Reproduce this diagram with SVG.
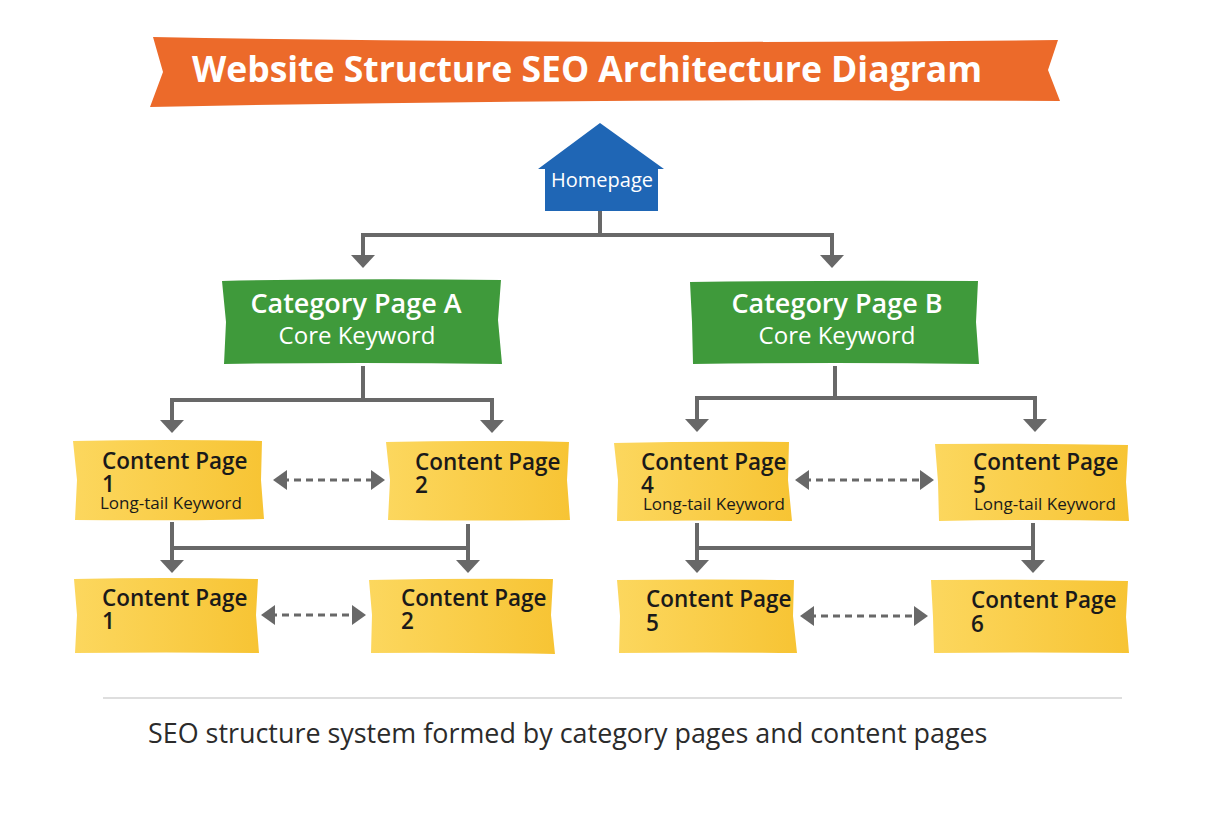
<svg xmlns="http://www.w3.org/2000/svg" width="1228" height="819" viewBox="0 0 1228 819">
<style>
.conn{fill:none;stroke:#686868;stroke-width:4;stroke-linejoin:miter}
.dash{fill:none;stroke:#686868;stroke-width:3;stroke-dasharray:7 5}
.cpt{font-family:"Open Sans","Noto Sans",sans-serif;font-weight:600;font-size:22.5px;fill:#1a1a1a}
.cps{font-weight:400;font-size:17px}
.catt{font-family:"Open Sans","Noto Sans",sans-serif;font-weight:600;font-size:27px;fill:#fff}
.cats{font-weight:400;font-size:24px}
.yel{fill:url(#yg)}
.grn{fill:#3f9a3b}
</style>
<defs>
<linearGradient id="yg" x1="0" y1="0" x2="1" y2="0">
<stop offset="0" stop-color="#fcd75e"/>
<stop offset="1" stop-color="#f7c434"/>
</linearGradient>
<marker id="ah" markerUnits="userSpaceOnUse" markerWidth="14" markerHeight="24" refX="5" refY="12" orient="auto-start-reverse" viewBox="0 0 14 24">
<path d="M0,0 L13,12 L0,24 Z" fill="#686868"/>
</marker>
<marker id="dh" markerUnits="userSpaceOnUse" markerWidth="15" markerHeight="20" refX="5" refY="10" orient="auto-start-reverse" viewBox="0 0 15 20">
<path d="M0,0 L14,10 L0,20 Z" fill="#686868"/>
</marker>
</defs>
<rect width="1228" height="819" fill="#ffffff"/>

<g id="title">
<path d="M153,37 Q600,45 1058,40 L1048,70 L1060,101 Q600,98 150,107 L163,72 Z" fill="#ec6a2a"/>
<text x="587" y="82" text-anchor="middle" font-family="'Open Sans','Noto Sans',sans-serif" font-weight="700" font-size="35.5" fill="#fff">Website Structure SEO Architecture Diagram</text>
</g>

<g id="connectors">
<path class="conn" d="M600,211 V235 H363 V260" marker-end="url(#ah)"/>
<path class="conn" d="M600,235 H832 V260" marker-end="url(#ah)"/>
<path class="conn" d="M363,366 V400 H172 V425" marker-end="url(#ah)"/>
<path class="conn" d="M363,400 H492 V425" marker-end="url(#ah)"/>
<path class="conn" d="M172,522 V565" marker-end="url(#ah)"/>
<path class="conn" d="M172,548 H468"/>
<path class="conn" d="M468,524 V565" marker-end="url(#ah)"/>
<path class="conn" d="M835,366 V398 H697 V424" marker-end="url(#ah)"/>
<path class="conn" d="M835,398 H1035 V424" marker-end="url(#ah)"/>
<path class="conn" d="M697,523 V565" marker-end="url(#ah)"/>
<path class="conn" d="M697,548 H1033"/>
<path class="conn" d="M1033,523 V565" marker-end="url(#ah)"/>
<path class="dash" d="M282,480 H376" marker-start="url(#dh)" marker-end="url(#dh)"/>
<path class="dash" d="M270,615 H357" marker-start="url(#dh)" marker-end="url(#dh)"/>
<path class="dash" d="M804,480 H925" marker-start="url(#dh)" marker-end="url(#dh)"/>
<path class="dash" d="M809,616 H919" marker-start="url(#dh)" marker-end="url(#dh)"/>
</g>

<g id="homepage">
<path d="M600,123 L664,169 L658,169 L658,211 L545,211 L545,169 L538,169 Z" fill="#1f66b5"/>
<text x="602" y="187" text-anchor="middle" font-family="'Open Sans','Noto Sans',sans-serif" font-size="20" fill="#fff">Homepage</text>
</g>

<g id="catA">
<path class="grn" d="M222,281 Q360,278 501,280 L498,320 L502,364 Q360,362 224,364 L226,322 Z"/>
<text class="catt" text-anchor="middle"><tspan x="356" y="313">Category Page A</tspan><tspan class="cats" x="357" y="344">Core Keyword</tspan></text>
</g>

<g id="catB">
<path class="grn" d="M690,282 Q835,280 978,281 L976,322 L979,364 Q835,362 693,364 L692,322 Z"/>
<text class="catt" text-anchor="middle"><tspan x="837" y="313">Category Page B</tspan><tspan class="cats" x="837" y="344">Core Keyword</tspan></text>
</g>

<g id="cp1a">
<path class="yel" d="M73,441 Q170,439 262,441 L261,480 L264,519 Q170,521 75,520 L77,480 Z"/>
<text class="cpt"><tspan x="102" y="469">Content Page</tspan><tspan x="102" y="492">1</tspan><tspan class="cps" x="100" y="509">Long-tail Keyword</tspan></text>
</g>

<g id="cp2a">
<path class="yel" d="M386,442 Q480,440 569,442 L567,480 L570,520 Q480,521 388,520 L390,480 Z"/>
<text class="cpt"><tspan x="415" y="470">Content Page</tspan><tspan x="415" y="493">2</tspan></text>
</g>

<g id="cp1b">
<path class="yel" d="M74,579 Q165,577 258,579 L256,615 L259,653 Q165,652 75,653 L77,615 Z"/>
<text class="cpt"><tspan x="102" y="606">Content Page</tspan><tspan x="102" y="629">1</tspan></text>
</g>

<g id="cp2b">
<path class="yel" d="M369,580 Q460,578 553,579 L551,615 L555,654 Q460,652 371,653 L372,615 Z"/>
<text class="cpt"><tspan x="401" y="606">Content Page</tspan><tspan x="401" y="629">2</tspan></text>
</g>

<g id="cp4">
<path class="yel" d="M614,443 Q700,441 789,442 L788,480 L792,521 Q700,520 617,521 L618,480 Z"/>
<text class="cpt"><tspan x="641" y="470">Content Page</tspan><tspan x="641" y="493">4</tspan><tspan class="cps" x="643" y="510">Long-tail Keyword</tspan></text>
</g>

<g id="cp5a">
<path class="yel" d="M935,444 Q1030,443 1128,445 L1126,482 L1129,521 Q1030,519 939,521 L938,482 Z"/>
<text class="cpt"><tspan x="973" y="470">Content Page</tspan><tspan x="973" y="493">5</tspan><tspan class="cps" x="974" y="510">Long-tail Keyword</tspan></text>
</g>

<g id="cp5b">
<path class="yel" d="M617,580 Q705,579 794,580 L793,616 L797,653 Q705,652 619,653 L620,616 Z"/>
<text class="cpt"><tspan x="646" y="607">Content Page</tspan><tspan x="646" y="631">5</tspan></text>
</g>

<g id="cp6">
<path class="yel" d="M931,580 Q1030,579 1128,581 L1126,617 L1129,653 Q1030,652 934,653 L933,617 Z"/>
<text class="cpt"><tspan x="971" y="608">Content Page</tspan><tspan x="971" y="632">6</tspan></text>
</g>

<g id="footer">
<line x1="103" y1="698" x2="1122" y2="698" stroke="#dedede" stroke-width="2"/>
<text x="148" y="743" font-family="'Open Sans','Noto Sans',sans-serif" font-size="26.9" fill="#2b2b2b">SEO structure system formed by category pages and content pages</text>
</g>
</svg>
